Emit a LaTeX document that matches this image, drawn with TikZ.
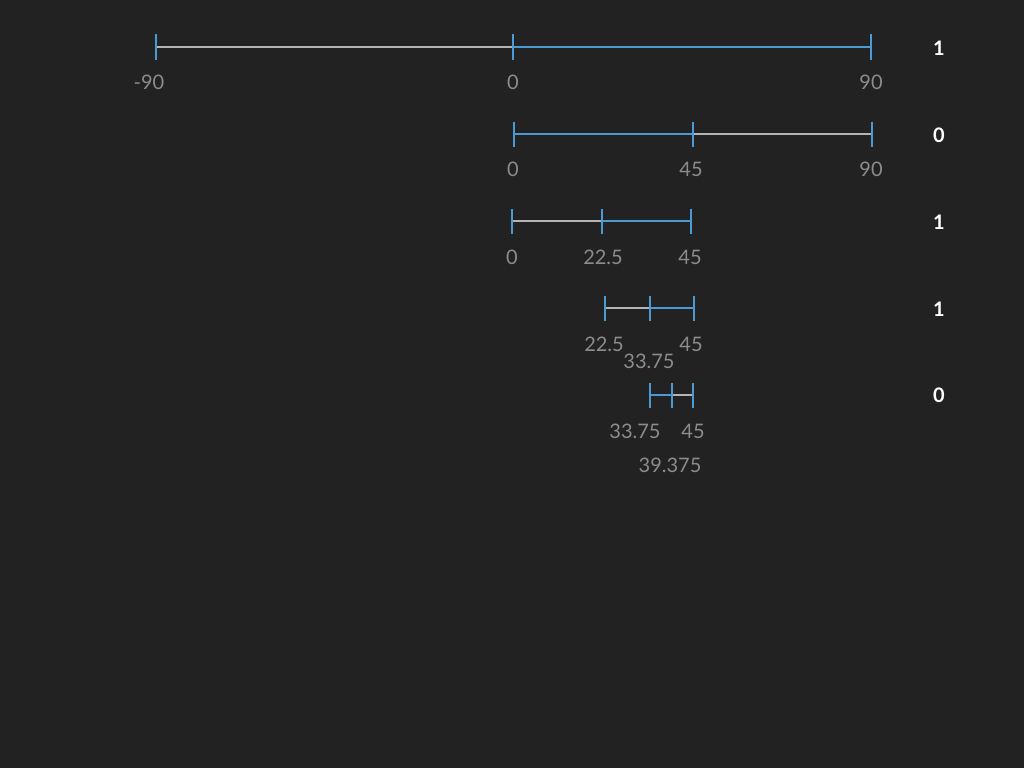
\documentclass[tikz,border=0pt]{standalone}
\usepackage{fontspec}
\setmainfont{Lato}
\usetikzlibrary{positioning}
\definecolor{bgdark}{HTML}{222222}
\definecolor{linegray}{HTML}{B4B4B4}
\definecolor{lineblue}{HTML}{4A9AD4}
\definecolor{lblgray}{HTML}{8C8C8C}
\tikzset{
  seggray/.style={draw=linegray, line width=2pt},
  segblue/.style={draw=lineblue, line width=2pt},
  tickmark/.style={draw=lineblue, line width=2pt},
  lbl/.style={text=lblgray, font=\fontsize{20}{24}\selectfont, inner sep=0pt},
  bit/.style={text=white, font=\fontsize{20}{24}\selectfont\bfseries, inner sep=0pt},
}
\begin{document}
\begin{tikzpicture}[x=1pt, y=-1pt]
    \fill[bgdark] (0,0) rectangle (1024,768);

    % interval ends and midpoints, one row per step
    \coordinate (r1a) at (156,47);
    \coordinate (r1b) at (513,47);
    \coordinate (r1c) at (871,47);
    \coordinate (r2a) at (514,134);
    \coordinate (r2b) at (693,134);
    \coordinate (r2c) at (872,134);
    \coordinate (r3a) at (512,221);
    \coordinate (r3b) at (602,221);
    \coordinate (r3c) at (691,221);
    \coordinate (r4a) at (605,308);
    \coordinate (r4b) at (650,308);
    \coordinate (r4c) at (694,308);
    \coordinate (r5a) at (650,395);
    \coordinate (r5b) at (672,395);
    \coordinate (r5c) at (693,395);

    % halves
    \draw[seggray] (r1a) -- (r1b);
    \draw[segblue] (r1b) -- (r1c);
    \draw[segblue] (r2a) -- (r2b);
    \draw[seggray] (r2b) -- (r2c);
    \draw[seggray] (r3a) -- (r3b);
    \draw[segblue] (r3b) -- (r3c);
    \draw[seggray] (r4a) -- (r4b);
    \draw[segblue] (r4b) -- (r4c);
    \draw[segblue] (r5a) -- (r5b);
    \draw[seggray] (r5b) -- (r5c);

    % ticks
    \foreach \c in {r1a,r1b,r1c,r2a,r2b,r2c,r3a,r3b,r3c,r4a,r4b,r4c,r5a,r5b,r5c}
        \draw[tickmark] ([yshift=12.5pt]\c) -- ([yshift=-12.5pt]\c);

    % values
    \node[lbl] (v1a) at (149,82) {-90};
    \node[lbl] (v1b) at (513,82) {0};
    \node[lbl] (v1c) at (871,82) {90};
    \node[lbl] (v2a) at (513,169) {0};
    \node[lbl] (v2b) at (691,169) {45};
    \node[lbl] (v2c) at (871,169) {90};
    \node[lbl] (v3a) at (512,257) {0};
    \node[lbl] (v3b) at (603,257) {22.5};
    \node[lbl] (v3c) at (690,257) {45};
    \node[lbl] (v4a) at (604,344) {22.5};
    \node[lbl] (v4c) at (691,344) {45};
    \node[lbl] (v4b) at (649,361) {33.75};
    \node[lbl] (v5a) at (635,431) {33.75};
    \node[lbl] (v5c) at (693,431) {45};
    \node[lbl] (v5b) at (670,465) {39.375};

    % bits
    \node[bit] (b1) at (939,48) {1};
    \node[bit] (b2) at (939,135) {0};
    \node[bit] (b3) at (939,222) {1};
    \node[bit] (b4) at (939,309) {1};
    \node[bit] (b5) at (939,395) {0};
\end{tikzpicture}
\end{document}
